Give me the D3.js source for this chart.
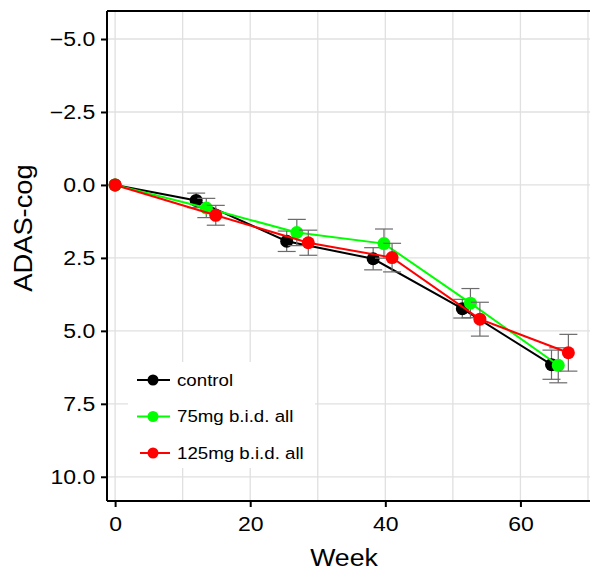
<!DOCTYPE html>
<html>
<head>
<meta charset="utf-8">
<script src="https://cdn.jsdelivr.net/npm/d3@7"></script>
<style>
  body { margin: 0; background: #fff; }
  svg { display: block; font-family: "Liberation Sans", Arial, sans-serif; }
</style>
</head>
<body>
<div id="chart"></div>
<script>
// data
const weeksControl = [0, 12.0, 25.4, 38.2, 51.4, 64.6];
const valsControl  = [0, 0.53, 1.93, 2.53, 4.24, 6.16];
const errControl   = [0, 0.25, 0.35, 0.38, 0.32, 0.5];

const weeks75 = [0, 13.5, 26.9, 39.8, 52.6, 65.6];
const vals75  = [0, 0.79, 1.63, 2.01, 4.05, 6.18];
const err75   = [0, 0.33, 0.45, 0.5, 0.5, 0.6];

const weeks125 = [0, 14.9, 28.6, 41.0, 54.0, 67.1];
const vals125  = [0, 1.04, 1.98, 2.49, 4.6, 5.75];
const err125   = [0, 0.34, 0.43, 0.49, 0.58, 0.63];

const seriesNames  = ['control', '75mg b.i.d. all', '125mg b.i.d. all'];
const seriesColors = ['#000000', '#00ff00', '#ff0000'];

const xTicks = [0, 20, 40, 60];
const xGrid  = [0, 10, 20, 30, 40, 50, 60, 70];
const yTicks = [-5, -2.5, 0, 2.5, 5, 7.5, 10];

const series = [
    { name: seriesNames[0], color: seriesColors[0], weeks: weeksControl, vals: valsControl, err: errControl },
    { name: seriesNames[1], color: seriesColors[1], weeks: weeks75, vals: vals75, err: err75 },
    { name: seriesNames[2], color: seriesColors[2], weeks: weeks125, vals: vals125, err: err125 }
].map(s => ({ ...s, pts: s.weeks.map((w, i) => ({ x: w, y: s.vals[i], e: s.err[i] })) }));

const W = 590, H = 571;
const pLeft = 107, pRight = 590, pTop = 11, pBottom = 501;

const svg = d3.select('#chart').append('svg')
    .attr('width', W)
    .attr('height', H);

const x = d3.scaleLinear().domain([-1.2, 70.3]).range([pLeft, pRight]);
const y = d3.scaleLinear().domain([-5.96, 10.83]).range([pTop, pBottom]);

// grid
const grid = svg.append('g');
grid.selectAll('.vg').data(xGrid).enter().append('line')
    .attr('x1', d => x(d)).attr('x2', d => x(d))
    .attr('y1', pTop).attr('y2', pBottom)
    .attr('stroke', '#e0e0e0').attr('stroke-width', 1.3);
grid.selectAll('.hg').data(yTicks).enter().append('line')
    .attr('x1', pLeft).attr('x2', pRight)
    .attr('y1', d => y(d)).attr('y2', d => y(d))
    .attr('stroke', '#e0e0e0').attr('stroke-width', 1.3);

// legend background hides grid
svg.append('rect')
    .attr('x', 128).attr('y', 362)
    .attr('width', 187).attr('height', 106)
    .attr('fill', '#fff');

// series
const line = d3.line().x(d => x(d.x)).y(d => y(d.y));
series.forEach(s => {
    const g = svg.append('g');
    const eb = g.selectAll('.eb').data(s.pts.filter(d => d.e > 0)).enter().append('g')
        .attr('stroke', '#6b6b6b').attr('stroke-width', 1.2);
    eb.append('line')
        .attr('x1', d => x(d.x)).attr('x2', d => x(d.x))
        .attr('y1', d => y(d.y - d.e)).attr('y2', d => y(d.y + d.e));
    eb.append('line')
        .attr('x1', d => x(d.x) - 9).attr('x2', d => x(d.x) + 9)
        .attr('y1', d => y(d.y - d.e)).attr('y2', d => y(d.y - d.e));
    eb.append('line')
        .attr('x1', d => x(d.x) - 9).attr('x2', d => x(d.x) + 9)
        .attr('y1', d => y(d.y + d.e)).attr('y2', d => y(d.y + d.e));
    g.append('path')
        .datum(s.pts)
        .attr('d', line)
        .attr('fill', 'none')
        .attr('stroke', s.color)
        .attr('stroke-width', 2);
    g.selectAll('circle').data(s.pts).enter().append('circle')
        .attr('cx', d => x(d.x)).attr('cy', d => y(d.y))
        .attr('r', 6.5)
        .attr('fill', s.color);
});

// axes
const xAxis = svg.append('g')
    .attr('transform', `translate(0,${pBottom})`)
    .call(d3.axisBottom(x).tickValues(xTicks).tickSize(6).tickPadding(10).tickFormat(d3.format('d')));
const yAxis = svg.append('g')
    .attr('transform', `translate(${pLeft},0)`)
    .call(d3.axisLeft(y).tickValues(yTicks).tickSize(6).tickPadding(4).tickFormat(d3.format('.1f')));
[xAxis, yAxis].forEach(a => {
    a.attr('font-family', null).attr('font-size', null);
    a.select('.domain').attr('stroke', '#000').attr('stroke-width', 2);
    a.selectAll('.tick line').attr('stroke', '#000').attr('stroke-width', 2);
    a.selectAll('.tick text')
        .attr('fill', '#000')
        .attr('transform', 'scale(1.18,1)')
        .style('font-size', '19.5px');
});
yAxis.select('.domain').attr('d', `M0,${pTop}V${pBottom}`);
xAxis.select('.domain').attr('d', `M${pLeft},0H${pRight}`);

// top border
svg.append('line')
    .attr('x1', pLeft).attr('x2', pRight)
    .attr('y1', pTop).attr('y2', pTop)
    .attr('stroke', '#000').attr('stroke-width', 2);

// axis titles
svg.append('text')
    .attr('transform', 'translate(344,566) scale(1.08,1)')
    .attr('text-anchor', 'middle')
    .style('font-size', '24.7px')
    .text('Week');
svg.append('text')
    .attr('transform', 'translate(31.5,228) rotate(-90) scale(1.07,1)')
    .attr('text-anchor', 'middle')
    .style('font-size', '25.5px')
    .text('ADAS-cog');

// legend
const legend = svg.append('g');
const legY = [380, 416.5, 453];
series.forEach((s, i) => {
    const lg = legend.append('g').attr('transform', `translate(0,${legY[i]})`);
    lg.append('line')
        .attr('x1', i === 2 ? 140 : 137).attr('x2', 170)
        .attr('y1', 0).attr('y2', 0)
        .attr('stroke', s.color).attr('stroke-width', 2);
    lg.append('circle')
        .attr('cx', 153).attr('cy', 0).attr('r', 5.5)
        .attr('fill', s.color);
    lg.append('text')
        .attr('transform', 'translate(177,0) scale(1.1,1)')
        .attr('dy', '0.35em')
        .style('font-size', '17px')
        .text(s.name);
});
</script>
</body>
</html>
